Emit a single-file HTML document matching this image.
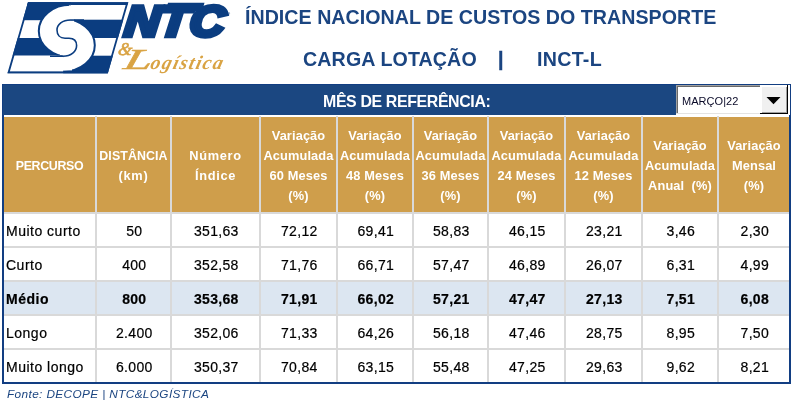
<!DOCTYPE html>
<html lang="pt-BR"><head><meta charset="utf-8"><title>INCT-L</title>
<style>
html,body{margin:0;padding:0;background:#fff;}
body{width:793px;height:400px;position:relative;overflow:hidden;font-family:"Liberation Sans",sans-serif;}
.a{position:absolute;}
.t{position:absolute;white-space:pre;}
.title{font-weight:bold;font-size:21px;line-height:24px;color:#1b4581;transform-origin:0 0;transform:scaleX(0.935);}
.hd{position:absolute;background:#cf9e4b;color:#fff;font-weight:bold;font-size:12.8px;letter-spacing:0.12px;text-align:center;}
.hd span{position:absolute;left:-20px;right:-20px;line-height:20px;height:20px;white-space:pre;}
.hd span.up{font-size:12.4px;letter-spacing:-0.35px;}
.hd span.w1{letter-spacing:0.7px;}
.hd span.w2{letter-spacing:0.8px;}
.hd span.up2{font-size:12.4px;letter-spacing:0.1px;}
.c{position:absolute;font-size:14px;line-height:32px;height:32px;color:#000;text-align:center;white-space:pre;letter-spacing:0.3px;-webkit-text-stroke:0.2px #000;}
.c.l{text-align:left;letter-spacing:0.5px;}
.b{font-weight:bold;}

</style></head><body>
<svg class="a" style="left:0;top:0" width="245" height="84" viewBox="0 0 245 84">
<defs><clipPath id="pg"><polygon points="28,2.3 128.2,2.3 107.8,73.2 7.6,73.2"/></clipPath>
<clipPath id="lh"><rect x="0" y="0" width="70.4" height="84"/></clipPath>
<clipPath id="rh"><rect x="63.2" y="0" width="100" height="84"/></clipPath></defs>
<g clip-path="url(#pg)">
<rect x="0" y="0" width="140" height="84" fill="#fff"/>
<rect x="0" y="0" width="71" height="20.2" fill="#0b3d80"/>
<rect x="0" y="38" width="66" height="17.7" fill="#0b3d80"/>
<rect x="0" y="0" width="140" height="5" fill="#0b3d80"/>
<rect x="0" y="71.5" width="140" height="5" fill="#0b3d80"/>
<g clip-path="url(#lh)"><ellipse cx="70.4" cy="31" rx="31.6" ry="26.2" fill="#fff" stroke="#0b3d80" stroke-width="2"/></g>
<rect x="0" y="55.7" width="64" height="15.8" fill="#fff"/>
<rect x="69" y="5.4" width="70" height="14.3" fill="#fff"/>
<rect x="70.4" y="19.7" width="70" height="18.3" fill="#0b3d80"/>
<rect x="63.2" y="55.7" width="70" height="20" fill="#0b3d80"/>
<g clip-path="url(#rh)"><ellipse cx="63.2" cy="45.2" rx="31.6" ry="26.2" fill="#fff" stroke="#0b3d80" stroke-width="2"/></g>
<rect x="60" y="21" width="14" height="34" fill="#fff"/>
<rect x="62" y="7" width="12" height="13.6" fill="#fff"/>
<rect x="58" y="57.4" width="14" height="13" fill="#fff"/>
<path d="M84 20 L70.4 20 C62.5 20 57 24.5 57 30 C57 35 60 38.2 65 38.2 L69 38.2 C74 38.2 76.6 41 76.6 45.5 C76.6 51.5 71 56.2 63 56.2 L50 56.2" fill="none" stroke="#0b3d80" stroke-width="1.6"/>
</g>
<polygon points="28.6,3.1 127.2,3.1 107.2,72.4 8.6,72.4" fill="none" stroke="#0b3d80" stroke-width="1.8"/>
<text transform="translate(123.6,35.5) skewX(-5.5) scale(1.13,1)" font-family="Liberation Sans, sans-serif" font-weight="bold" font-style="italic" font-size="43" letter-spacing="-0.5" dx="0 0 1.2" fill="#0b3d80" stroke="#0b3d80" stroke-width="4.5" stroke-linejoin="miter">NTC</text>
<polygon points="168,2.75 204.5,2.75 202,11.6 165.6,11.6" fill="#0b3d80"/>
<text x="227.6" y="15.2" font-family="Liberation Sans, sans-serif" font-size="3.6" fill="#0b3d80">®</text>
<text transform="translate(117.5,54.6) skewX(-8)" font-family="Liberation Serif, serif" font-style="italic" font-size="18" fill="#d9a343" stroke="#d9a343" stroke-width="0.6">&amp;</text>
<text transform="translate(122.5,69) skewX(-14)" font-family="Liberation Serif, serif" font-style="italic" fill="#d9a343" stroke="#d9a343"><tspan font-size="29" stroke-width="0.5" textLength="28.2" lengthAdjust="spacingAndGlyphs">L</tspan><tspan x="27" y="-0.2" font-weight="bold" font-size="19.5" letter-spacing="1.45" stroke="none">ogística</tspan></text>
</svg>
<div class="t title" style="left:245.3px;top:4.8px;letter-spacing:0.02px;">ÍNDICE NACIONAL DE CUSTOS DO TRANSPORTE</div>
<div class="t title" style="left:302.9px;top:46.8px;letter-spacing:0.12px;">CARGA LOTAÇÃO</div>
<div class="t title" style="left:498px;top:46.8px;-webkit-text-stroke:0.5px;">|</div>
<div class="t title" style="left:537px;top:46.8px;letter-spacing:0.3px;">INCT-L</div>
<div class="a" style="left:2px;top:84px;width:789px;height:300px;background:#123e82;"></div>
<div class="a" style="left:3px;top:85px;width:787px;height:30px;background:#1b4781;"></div>
<div class="a" style="left:4px;top:115px;width:785px;height:267px;background:#fff;"></div>
<div class="t" style="left:323px;top:87.6px;width:166px;line-height:28px;font-size:15.9px;letter-spacing:-0.36px;font-weight:bold;color:#fff;text-align:center;">MÊS DE REFERÊNCIA:</div>
<div class="a" style="left:676px;top:85px;width:114px;height:30px;background:#fff;"></div>
<div class="a" style="left:676px;top:85px;width:84px;height:1px;background:#a0a0a0;"></div>
<div class="a" style="left:676px;top:85px;width:1px;height:29px;background:#a0a0a0;"></div>
<div class="a" style="left:677px;top:86px;width:83px;height:1px;background:#696969;"></div>
<div class="a" style="left:677px;top:86px;width:1px;height:27px;background:#696969;"></div>
<div class="a" style="left:676px;top:113px;width:84px;height:1px;background:#e3e3e3;"></div>
<div class="a" style="left:760px;top:85px;width:28px;height:29px;background:#f0f0f0;box-shadow:inset -1px -1px 0 #000, inset 2px 2px 0 #fff, inset -2px -2px 0 #a0a0a0;"></div>
<svg class="a" style="left:766px;top:97px" width="16" height="8" viewBox="0 0 16 8"><polygon points="0.5,0 14.5,0 7.5,7.2" fill="#000"/></svg>
<div class="t" style="left:682px;top:93px;font-size:11px;letter-spacing:0.05px;line-height:16px;color:#0a0a28;">MARÇO|22</div>
<div class="hd" style="left:4px;top:117px;width:91px;height:95px;">
<span class="up" style="top:38.5px;">PERCURSO</span>
</div>
<div class="hd" style="left:97px;top:117px;width:73px;height:95px;">
<span class="up2" style="top:28.5px;">DISTÂNCIA</span>
<span class="w2" style="top:48.5px;">(km)</span>
</div>
<div class="hd" style="left:172px;top:117px;width:87px;height:95px;">
<span class="w1" style="top:28.5px;">Número</span>
<span class="w1" style="top:48.5px;">Índice</span>
</div>
<div class="hd" style="left:261px;top:117px;width:75px;height:95px;">
<span style="top:8.5px;">Variação</span>
<span style="top:28.5px;">Acumulada</span>
<span style="top:48.5px;">60 Meses</span>
<span style="top:68.5px;">(%)</span>
</div>
<div class="hd" style="left:338px;top:117px;width:74px;height:95px;">
<span style="top:8.5px;">Variação</span>
<span style="top:28.5px;">Acumulada</span>
<span style="top:48.5px;">48 Meses</span>
<span style="top:68.5px;">(%)</span>
</div>
<div class="hd" style="left:414px;top:117px;width:73px;height:95px;">
<span style="top:8.5px;">Variação</span>
<span style="top:28.5px;">Acumulada</span>
<span style="top:48.5px;">36 Meses</span>
<span style="top:68.5px;">(%)</span>
</div>
<div class="hd" style="left:489px;top:117px;width:75px;height:95px;">
<span style="top:8.5px;">Variação</span>
<span style="top:28.5px;">Acumulada</span>
<span style="top:48.5px;">24 Meses</span>
<span style="top:68.5px;">(%)</span>
</div>
<div class="hd" style="left:566px;top:117px;width:75px;height:95px;">
<span style="top:8.5px;">Variação</span>
<span style="top:28.5px;">Acumulada</span>
<span style="top:48.5px;">12 Meses</span>
<span style="top:68.5px;">(%)</span>
</div>
<div class="hd" style="left:643px;top:117px;width:74px;height:95px;">
<span style="top:18.5px;">Variação</span>
<span style="top:38.5px;">Acumulada</span>
<span style="top:58.5px;">Anual  (%)</span>
</div>
<div class="hd" style="left:719px;top:117px;width:70px;height:95px;">
<span style="top:18.5px;">Variação</span>
<span style="top:38.5px;">Mensal</span>
<span style="top:58.5px;">(%)</span>
</div>
<div class="c l" style="left:6px;top:215px;width:89px;">Muito curto</div>
<div class="c" style="left:97.8px;top:215px;width:73px;">50</div>
<div class="c" style="left:172.8px;top:215px;width:87px;">351,63</div>
<div class="c" style="left:261.8px;top:215px;width:75px;">72,12</div>
<div class="c" style="left:338.8px;top:215px;width:74px;">69,41</div>
<div class="c" style="left:414.8px;top:215px;width:73px;">58,83</div>
<div class="c" style="left:489.8px;top:215px;width:75px;">46,15</div>
<div class="c" style="left:566.8px;top:215px;width:75px;">23,21</div>
<div class="c" style="left:643.8px;top:215px;width:74px;">3,46</div>
<div class="c" style="left:719.8px;top:215px;width:70px;">2,30</div>
<div class="c l" style="left:6px;top:249px;width:89px;">Curto</div>
<div class="c" style="left:97.8px;top:249px;width:73px;">400</div>
<div class="c" style="left:172.8px;top:249px;width:87px;">352,58</div>
<div class="c" style="left:261.8px;top:249px;width:75px;">71,76</div>
<div class="c" style="left:338.8px;top:249px;width:74px;">66,71</div>
<div class="c" style="left:414.8px;top:249px;width:73px;">57,47</div>
<div class="c" style="left:489.8px;top:249px;width:75px;">46,89</div>
<div class="c" style="left:566.8px;top:249px;width:75px;">26,07</div>
<div class="c" style="left:643.8px;top:249px;width:74px;">6,31</div>
<div class="c" style="left:719.8px;top:249px;width:70px;">4,99</div>
<div class="a" style="left:4px;top:282px;width:785px;height:32px;background:#dce6f1;"></div>
<div class="c l b" style="left:6px;top:283px;width:89px;">Médio</div>
<div class="c b" style="left:97.8px;top:283px;width:73px;">800</div>
<div class="c b" style="left:172.8px;top:283px;width:87px;">353,68</div>
<div class="c b" style="left:261.8px;top:283px;width:75px;">71,91</div>
<div class="c b" style="left:338.8px;top:283px;width:74px;">66,02</div>
<div class="c b" style="left:414.8px;top:283px;width:73px;">57,21</div>
<div class="c b" style="left:489.8px;top:283px;width:75px;">47,47</div>
<div class="c b" style="left:566.8px;top:283px;width:75px;">27,13</div>
<div class="c b" style="left:643.8px;top:283px;width:74px;">7,51</div>
<div class="c b" style="left:719.8px;top:283px;width:70px;">6,08</div>
<div class="c l" style="left:6px;top:317px;width:89px;">Longo</div>
<div class="c" style="left:97.8px;top:317px;width:73px;">2.400</div>
<div class="c" style="left:172.8px;top:317px;width:87px;">352,06</div>
<div class="c" style="left:261.8px;top:317px;width:75px;">71,33</div>
<div class="c" style="left:338.8px;top:317px;width:74px;">64,26</div>
<div class="c" style="left:414.8px;top:317px;width:73px;">56,18</div>
<div class="c" style="left:489.8px;top:317px;width:75px;">47,46</div>
<div class="c" style="left:566.8px;top:317px;width:75px;">28,75</div>
<div class="c" style="left:643.8px;top:317px;width:74px;">8,95</div>
<div class="c" style="left:719.8px;top:317px;width:70px;">7,50</div>
<div class="c l" style="left:6px;top:351px;width:89px;">Muito longo</div>
<div class="c" style="left:97.8px;top:351px;width:73px;">6.000</div>
<div class="c" style="left:172.8px;top:351px;width:87px;">350,37</div>
<div class="c" style="left:261.8px;top:351px;width:75px;">70,84</div>
<div class="c" style="left:338.8px;top:351px;width:74px;">63,15</div>
<div class="c" style="left:414.8px;top:351px;width:73px;">55,48</div>
<div class="c" style="left:489.8px;top:351px;width:75px;">47,25</div>
<div class="c" style="left:566.8px;top:351px;width:75px;">29,63</div>
<div class="c" style="left:643.8px;top:351px;width:74px;">9,62</div>
<div class="c" style="left:719.8px;top:351px;width:70px;">8,21</div>
<div class="a" style="left:4px;top:212px;width:785px;height:2px;background:#d9d9d9;"></div>
<div class="a" style="left:4px;top:246px;width:785px;height:2px;background:#d9d9d9;"></div>
<div class="a" style="left:4px;top:280px;width:785px;height:2px;background:#d9d9d9;"></div>
<div class="a" style="left:4px;top:314px;width:785px;height:2px;background:#d9d9d9;"></div>
<div class="a" style="left:4px;top:348px;width:785px;height:2px;background:#d9d9d9;"></div>
<div class="a" style="left:95px;top:116px;width:2px;height:266px;background:#d9d9d9;"></div>
<div class="a" style="left:170px;top:116px;width:2px;height:266px;background:#d9d9d9;"></div>
<div class="a" style="left:259px;top:116px;width:2px;height:266px;background:#d9d9d9;"></div>
<div class="a" style="left:336px;top:116px;width:2px;height:266px;background:#d9d9d9;"></div>
<div class="a" style="left:412px;top:116px;width:2px;height:266px;background:#d9d9d9;"></div>
<div class="a" style="left:487px;top:116px;width:2px;height:266px;background:#d9d9d9;"></div>
<div class="a" style="left:564px;top:116px;width:2px;height:266px;background:#d9d9d9;"></div>
<div class="a" style="left:641px;top:116px;width:2px;height:266px;background:#d9d9d9;"></div>
<div class="a" style="left:717px;top:116px;width:2px;height:266px;background:#d9d9d9;"></div>
<div class="t" style="left:7px;top:386.2px;font-size:11.8px;line-height:16px;font-style:italic;color:#1b4581;letter-spacing:0.38px;">Fonte: DECOPE | NTC&amp;LOGÍSTICA</div>
</body></html>
